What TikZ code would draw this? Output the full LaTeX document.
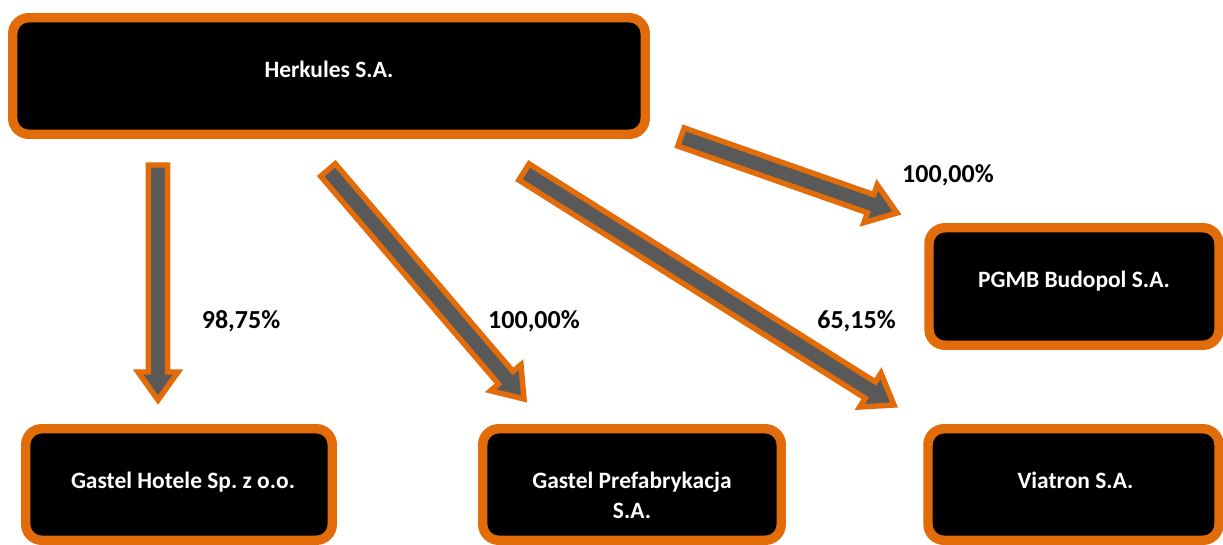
\documentclass[tikz,border=0pt]{standalone}
\usepackage{fontspec}
\setmainfont{Carlito}
\usetikzlibrary{calc}
\frenchspacing
\definecolor{borange}{HTML}{E36C0A}
\definecolor{agray}{HTML}{595959}
\newcommand\blockarr[2]{%
  \coordinate (#1#2m) at ($(#2)!21pt!(#1)$);
  \draw[barrow] ($(#1)!7.2pt!90:(#2)$) -- ($(#1#2m)!7.2pt!90:(#2)$) -- ($(#1#2m)!15pt!90:(#2)$) -- (#2)
     -- ($(#1#2m)!15pt!-90:(#2)$) -- ($(#1#2m)!7.2pt!-90:(#2)$) -- ($(#1)!7.2pt!-90:(#2)$) -- cycle;}
\tikzset{
  cbox/.style={draw=borange, fill=black, line width=7.1pt, rounded corners=12pt, outer sep=0pt, inner sep=0pt},
  ctext/.style={text=white, font=\fontsize{17.6}{22.5}\selectfont\bfseries, inner sep=0pt, anchor=base},
  pct/.style={text=black, font=\fontsize{19.5}{23}\selectfont\bfseries, inner sep=0pt, anchor=base},
  barrow/.style={draw=borange, fill=agray, line width=4.1pt, line join=miter}
}
\begin{document}
\begin{tikzpicture}[x=0.75pt,y=-0.75pt]
\useasboundingbox (0,0) rectangle (1223,545);
% boxes
\node[cbox, minimum width=632.5*0.75pt, minimum height=116.5*0.75pt] (herk) at (329,76) {};
\node[cbox, minimum width=306.5*0.75pt, minimum height=111.5*0.75pt] (hot) at (179,484.5) {};
\node[cbox, minimum width=298.5*0.75pt, minimum height=111.5*0.75pt] (pref) at (632,484.5) {};
\node[cbox, minimum width=291*0.75pt, minimum height=111.5*0.75pt] (via) at (1073.5,484.5) {};
\node[cbox, minimum width=290*0.75pt, minimum height=117.5*0.75pt] (pgmb) at (1074,286.5) {};
% texts
\node[ctext] (herk-t) at ($(herk.north)+(0,59.5)$) {Herkules S.A.};
\node[ctext] (hot-t) at ($(hot.north)+(4,59.5)$) {Gastel Hotele Sp. z o.o.};
\node[ctext] (pref-t) at ($(pref.north)+(0,59.5)$) {\begin{tabular}[t]{@{}c@{}}Gastel Prefabrykacja\\S.A.\end{tabular}};
\node[ctext] (via-t) at ($(via.north)+(2,59.5)$) {Viatron S.A.};
\node[ctext] (pgmb-t) at ($(pgmb.north)+(0,59.5)$) {PGMB Budopol S.A.};
% arrows
\coordinate (t1) at (158,165); \coordinate (h1) at (158,400);
\coordinate (t2) at (328,170); \coordinate (h2) at (524,399);
\coordinate (t3) at (524,172); \coordinate (h3) at (894,405);
\coordinate (t4) at (681,137); \coordinate (h4) at (897,213);
\blockarr{t1}{h1}
\blockarr{t2}{h2}
\blockarr{t3}{h3}
\blockarr{t4}{h4}
% labels
\node[pct] (p1) at (241,328) {98,75\%};
\node[pct] (p2) at (534,328) {100,00\%};
\node[pct] (p3) at (856.5,328) {65,15\%};
\node[pct] (p4) at (948,183) {100,00\%};
\end{tikzpicture}
\end{document}
